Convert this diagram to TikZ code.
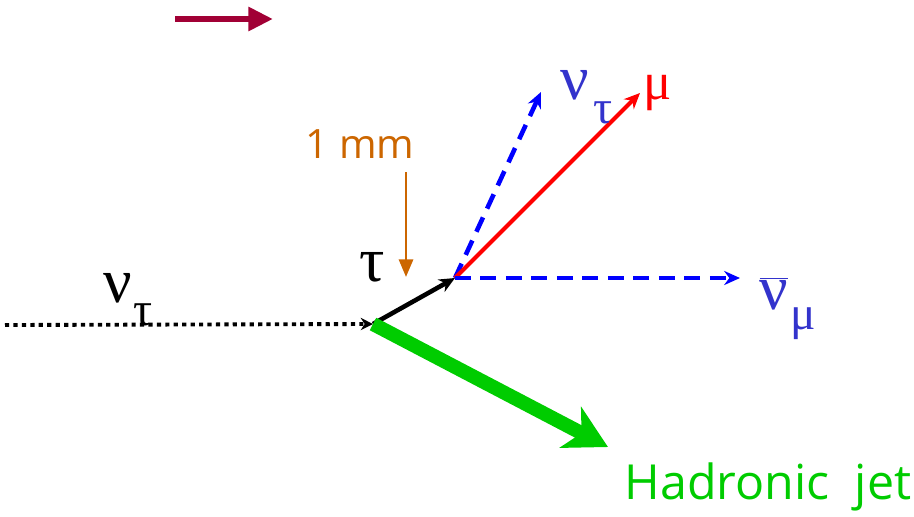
\documentclass[tikz,border=0pt]{standalone}
\usepackage{fontspec}
\setmainfont{Open Sans}
\newfontfamily\grk{Liberation Serif}
\usetikzlibrary{arrows.meta,positioning}
\definecolor{cDark}{HTML}{A10035}
\definecolor{cBlue}{HTML}{0000FF}
\definecolor{cNu}{HTML}{3333CC}
\definecolor{cMu}{HTML}{FF0000}
\definecolor{cJet}{HTML}{00CC00}
\definecolor{cScale}{HTML}{CC6600}
\tikzset{
  >=Stealth,
  trk/.style   ={line width=2.3pt},
  nutrk/.style ={trk,cBlue,line width=2.6pt,dash pattern=on 9pt off 5.5pt,-{Stealth[length=9pt,width=8pt]}},
  grklbl/.style={font=\grk\fontsize{36}{38}\selectfont,inner sep=0pt},
  sublbl/.style={font=\grk\fontsize{27}{29}\selectfont,inner sep=0pt,anchor=west},
  txtlbl/.style={font=\fontsize{23}{25}\selectfont,inner sep=0pt},
}
\begin{document}
\begin{tikzpicture}
\useasboundingbox (0,0) rectangle (18.28,10.32);
% vertices and track ends
\coordinate (nuin) at (0.1,3.82);
\coordinate (v1)   at (7.46,3.84);
\coordinate (v2)   at (9.1,4.76);
\coordinate (jet)  at (12.16,1.38);
\coordinate (nut)  at (10.82,8.48);
\coordinate (mu)   at (12.8,8.46);
\coordinate (num)  at (14.8,4.76);
\coordinate (dirA) at (3.5,9.94);
\coordinate (dirB) at (5.46,9.94);
\coordinate (mmA)  at (8.12,6.88);
\coordinate (mmB)  at (8.12,4.78);

% direction arrow
\draw[cDark,line width=3.6pt,-{Triangle[length=14pt,width=13pt]}] (dirA) -- (dirB);

% incoming neutrino
\draw[line width=2.2pt,dash pattern=on 2.4pt off 2.4pt,-{Stealth[length=7pt,width=7pt]}] (nuin) -- (v1);
\node[grklbl] (lnuin) at (2.35,4.55) {ν};
\node[sublbl] (ltauin) at (2.66,4.02) {τ};

% tau track
\draw[trk,line width=2.6pt,-{Stealth[length=9pt,width=8pt]}] (v1) -- (v2);
\node[grklbl] (ltau) at (7.44,4.98) {τ};

% hadronic jet
\draw[cJet,line width=8pt,-{Stealth[length=24pt,width=26pt,inset=7pt]}] (v1) -- (jet);
\node[txtlbl,font=\fontsize{27.5}{30}\selectfont,text=cJet] (ljet) at (15.36,0.58) {Hadronic\ \ jet};

% decay products
\draw[nutrk] (v2) -- (nut);
\draw[trk,cMu,-{Stealth[length=9pt,width=8pt]}] (v2) -- (mu);
\draw[nutrk] (v2) -- (num);
\node[grklbl,text=cNu] (lnut) at (11.5,8.62) {ν};
\node[sublbl,text=cNu] (ltaut) at (11.86,8.06) {τ};
\node[grklbl,font=\grk\fontsize{30}{32}\selectfont,text=cMu] (lmu) at (13.16,8.46) {μ};
\node[grklbl,text=cNu] (lnum) at (15.48,4.45) {$\overline{\hbox{ν}}$};
\node[sublbl,text=cNu] (lmum) at (15.8,3.85) {μ};

% scale
\node[txtlbl,text=cScale] (lmm) at (7.2,7.44) {1 mm};
\draw[cScale,line width=1.5pt,-{Triangle[length=10pt,width=8pt]}] (mmA) -- (mmB);
\end{tikzpicture}
\end{document}
